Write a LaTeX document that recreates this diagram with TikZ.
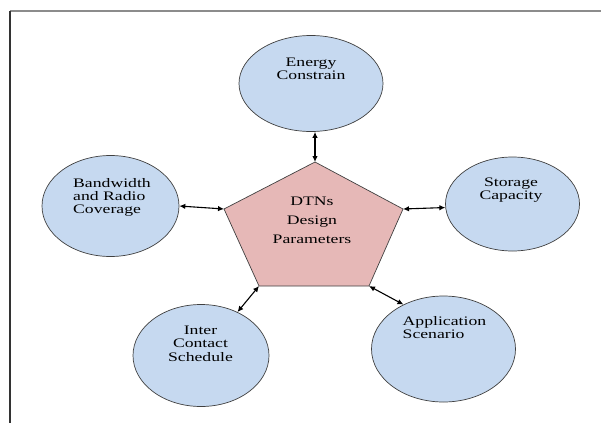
\documentclass[tikz,border=0pt]{standalone}
\usepackage{fontspec}
\setmainfont{Liberation Serif}
\usetikzlibrary{shapes.geometric,arrows.meta}
\definecolor{ellfill}{HTML}{C6D9F0}
\definecolor{pentfill}{HTML}{E6B8B7}
\definecolor{edgegray}{HTML}{404040}
\definecolor{framegray}{HTML}{8C8C8C}
\newcommand{\wtext}[3]{\scalebox{1.36}[1]{\fontsize{13}{#1}\selectfont\begin{tabular}[t]{@{}#2@{}}#3\end{tabular}}}
\tikzset{
  bubble/.style={ellipse, draw=edgegray, line width=0.7pt, fill=ellfill, inner sep=0pt},
  pent/.style={draw=edgegray, line width=0.7pt, fill=pentfill, line join=miter},
  lbl/.style={inner sep=0pt, text=black},
  conn/.style={line width=1.1pt, black, {Latex[length=6pt,width=5.5pt]}-{Latex[length=6pt,width=5.5pt]}},
}
\begin{document}
\begin{tikzpicture}[x=1pt,y=-1pt]
\useasboundingbox (0,0) rectangle (601,423);
% frame
\coordinate (fa) at (10,11);
\coordinate (fb) at (601,11);
\coordinate (fc) at (10,423);
\draw[framegray, line width=1.3pt] (fa) -- (fb);
\draw[black!80, line width=1.5pt] (fa) -- (fc);
% ellipses
\node[bubble, minimum width=144pt, minimum height=96pt] (energy) at (311,83.5) {};
\node[bubble, minimum width=137pt, minimum height=101pt] (bw) at (110.5,206) {};
\node[bubble, minimum width=134pt, minimum height=94pt] (st) at (512.5,204) {};
\node[bubble, minimum width=136pt, minimum height=102pt] (inter) at (201,355.5) {};
\node[bubble, minimum width=144pt, minimum height=106pt] (app) at (443.5,349) {};
% pentagon
\coordinate (pt) at (315,162);
\coordinate (pl) at (224,209);
\coordinate (pr) at (403,209);
\coordinate (pbl) at (259,286);
\coordinate (pbr) at (369,286);
\draw[pent] (pt) -- (pr) -- (pbr) -- (pbl) -- (pl) -- cycle;
% texts
\node[lbl, anchor=base] (energyT) at (311,66) {\wtext{13}{c}{Energy\\Constrain}};
\node[lbl, anchor=base west] (bwT) at (73,187) {\wtext{13}{l}{Bandwidth\\and Radio\\Coverage}};
\node[lbl, anchor=base] (stT) at (511,186) {\wtext{13}{c}{Storage\\Capacity}};
\node[lbl, anchor=base] (interT) at (200.5,334) {\wtext{13.5}{c}{Inter\\Contact\\Schedule}};
\node[lbl, anchor=base west] (appT) at (402.5,325) {\wtext{13}{l}{Application\\Scenario}};
\node[lbl, anchor=base] (pentT) at (312,205) {\wtext{19}{c}{DTNs\\Design\\Parameters}};
% connectors
\draw[conn] (energy.south -| pt) -- (pt);
\draw[conn] (bw.east) -- (pl);
\draw[conn] (pr) -- (st.183);
\draw[conn] (pbl) -- (inter.50);
\draw[conn] (pbr) -- (app.132);
\end{tikzpicture}
\end{document}
